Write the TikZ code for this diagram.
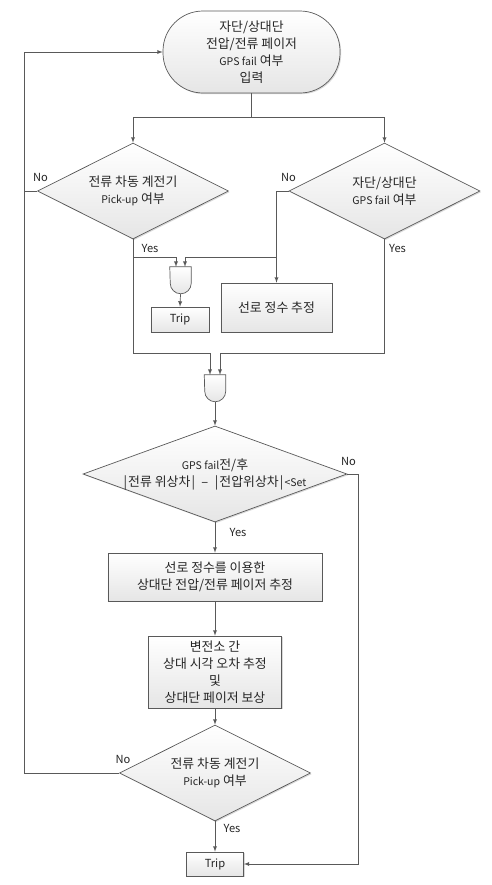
\documentclass[tikz,border=0pt]{standalone}
\usepackage{fontspec}
\setmainfont{Noto Sans CJK KR}
\usetikzlibrary{shapes.geometric,shadows}
\newcommand\latinsm{\fontsize{9}{10}\selectfont}

\begin{document}
\begin{tikzpicture}[x=0.03cm,y=0.03cm]
\tikzstyle{every node}=[text=black!85,font=\fontsize{11}{14.5}\selectfont]
\tikzstyle{flow}=[draw=black!65,line width=0.6pt]
\tikzstyle{paper}=[flow,top color=white,bottom color=black!10,drop shadow={shadow xshift=1pt,shadow yshift=-1pt,opacity=0.3}]
\tikzstyle{block}=[paper,rectangle,align=center,inner sep=0pt]
\tikzstyle{term}=[block,rounded corners=1.2cm,minimum width=5.31cm,minimum height=2.46cm]
\tikzstyle{cond}=[paper,diamond,inner sep=0pt,minimum width=5.73cm,minimum height=2.88cm]
\tikzstyle{ctext}=[align=center,inner sep=0pt]
\tikzstyle{gatebox}=[rectangle,inner sep=0pt,minimum width=0.63cm,minimum height=0.81cm]
\tikzstyle{tag}=[font=\fontsize{9.5}{11}\selectfont,inner sep=0pt]

	\useasboundingbox (0,0) rectangle (491,-885);

	\node[term] (start) at (251.5,-52) {자단/상대단\\전압/전류 페이저\\{\latinsm GPS fail} 여부\\입력};

	\node[cond,label={[ctext]center:{전류 차동 계전기\\{\latinsm Pick-up} 여부}}] (d1) at (133,-191) {};
	\node[cond,label={[ctext]center:{자단/상대단\\{\latinsm GPS fail} 여부}}] (d2) at (384.5,-191) {};

	\node[gatebox] (g1) at (180.5,-280.5) {};
	\node[gatebox] (g2) at (215,-388.5) {};
	\foreach \g in {g1,g2}
		\draw[flow,top color=white,bottom color=black!10] (\g.north west) -- (\g.north east) -- ++(0,-16.5) arc[start angle=0,end angle=-180,radius=10.5] -- cycle;

	\node[block,minimum width=1.74cm,minimum height=0.75cm,font=\fontsize{9.5}{11}\selectfont] (trip1) at (180,-319.5) {Trip};
	\node[block,minimum width=3.33cm,minimum height=1.47cm] (est) at (276.5,-307.5) {선로 정수 추정};

	\node[cond,minimum width=7.92cm,label={[ctext]center:{{\latinsm GPS fail}전/후\\|\kern1pt 전류 위상차\kern1pt|\enspace--\enspace|\kern1pt 전압위상차\kern1pt|\kern1pt{\latinsm<Set}}}] (d3) at (215,-474) {};

	\node[block,minimum width=6.42cm,minimum height=1.44cm] (calc1) at (215,-577) {선로 정수를 이용한\\상대단 전압/전류 페이저 추정};
	\node[block,minimum width=3.99cm,minimum height=2.16cm] (calc2) at (215,-672) {변전소 간\\상대 시각 오차 추정\\및\\상대단 페이저 보상};

	\node[cond,label={[ctext]center:{전류 차동 계전기\\{\latinsm Pick-up} 여부}}] (d4) at (215,-773) {};
	\node[block,minimum width=1.71cm,minimum height=0.72cm,font=\fontsize{9.5}{11}\selectfont] (trip2) at (215,-864) {Trip};

	% junctions
	\coordinate (split) at (251.5,-117);
	\coordinate (back) at (24,-52);
	\coordinate (tap) at (276.5,-257);
	\coordinate (join) at (133,-353);
	\coordinate (g1a) at ([xshift=-0.135cm]g1.north);
	\coordinate (g1b) at ([xshift=0.135cm]g1.north);
	\coordinate (g2a) at ([xshift=-0.15cm]g2.north);
	\coordinate (g2b) at ([xshift=0.15cm]g2.north);

	\draw[flow] (start.south) -- (split);
	\draw[flow,-latex] (split) -| (d1.north);
	\draw[flow,-latex] (split) -| (d2.north);

	\draw[flow,-latex] (d1.west) -| (back) -- (start.west);
	\draw[flow] (d4.west) -| (d1.west -| back);

	\draw[flow,-latex] (d2.west) -| (est.north);
	\draw[flow,-latex] (tap) -| (g1b);
	\draw[flow] (d1.south) -- (join);
	\draw[flow,-latex] (d1.south |- tap) -| (g1a);
	\draw[flow,-latex] (join) -| (g2a);
	\draw[flow,-latex] (d2.south) -- (d2.south |- join) -| (g2b);

	\draw[flow,-latex] (g1.south) -- (trip1.north);
	\draw[flow,-latex] (g2.south) -- (d3.north);
	\draw[flow,-latex] (d3.south) -- (calc1.north);
	\draw[flow,-latex] (d3.east) -- ++(11,0) |- (trip2.east);
	\draw[flow,-latex] (calc1.south) -- (calc2.north);
	\draw[flow,-latex] (calc2.south) -- (d4.north);
	\draw[flow,-latex] (d4.south) -- (trip2.north);

	\node[tag] (no1) at (40.5,-177) {No};
	\node[tag] (no2) at (288.5,-177) {No};
	\node[tag] (yes1) at (150,-248) {Yes};
	\node[tag] (yes2) at (397.5,-248) {Yes};
	\node[tag] (no3) at (348.5,-461) {No};
	\node[tag] (yes3) at (238,-532) {Yes};
	\node[tag] (no4) at (123,-759) {No};
	\node[tag] (yes4) at (232,-828) {Yes};

\end{tikzpicture}
\end{document}
